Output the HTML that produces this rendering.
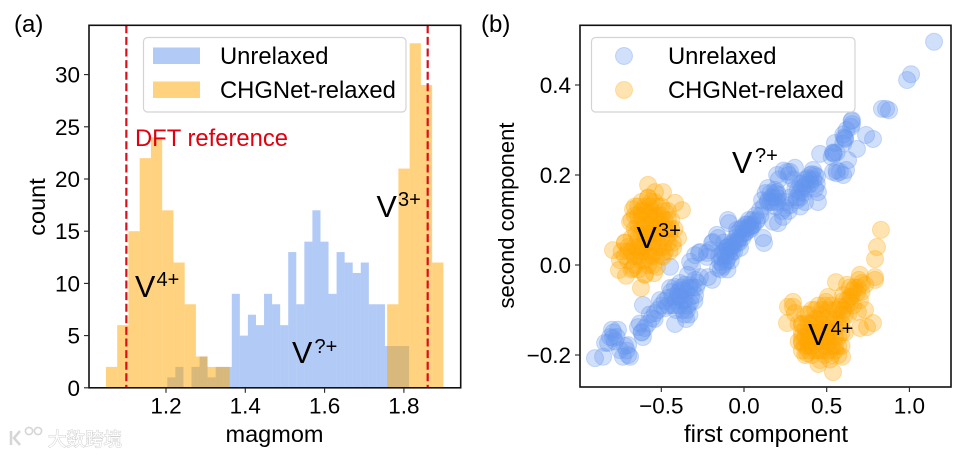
<!DOCTYPE html>
<html lang="en">
<head>
<meta charset="utf-8">
<title>Magnetic moment histogram and PCA scatter</title>
<style>
html,body{margin:0;padding:0;background:#fff;width:961px;height:457px;overflow:hidden}
svg{display:block;font-family:"Liberation Sans","Noto Sans CJK SC",sans-serif}
</style>
</head>
<body>
<svg id="figure" xmlns="http://www.w3.org/2000/svg" width="961" height="457" viewBox="0 0 961 457">
  <g id="panelA"></g>
  <g id="panelB"></g>

  <text x="14" y="32" font-size="24">(a)</text>
  <text x="481" y="32" font-size="24">(b)</text>

  <text x="274.5" y="442" font-size="23.5" text-anchor="middle">magmom</text>
  <text transform="translate(45 207) rotate(-90)" font-size="23.5" text-anchor="middle">count</text>
  <text x="766" y="442" font-size="24" text-anchor="middle">first component</text>
  <text transform="translate(514 215.5) rotate(-90)" font-size="22" text-anchor="middle">second component</text>

  <text x="135" y="146" font-size="23.8" fill="#e0000f">DFT reference</text>

  <g><text x="135" y="297" font-size="30.5">V</text><text x="156.5" y="286" font-size="20">4+</text></g>
  <g><text x="376.5" y="217" font-size="30.5">V</text><text x="398" y="206" font-size="20">3+</text></g>
  <g><text x="292" y="363" font-size="30.5">V</text><text x="314.5" y="353" font-size="20">?+</text></g>
  <g><text x="636.5" y="248" font-size="30.5">V</text><text x="658" y="237" font-size="20">3+</text></g>
  <g><text x="808" y="345" font-size="30.5">V</text><text x="830.5" y="335" font-size="20">4+</text></g>
  <g><text x="732" y="173" font-size="30.5">V</text><text x="755" y="162" font-size="20">?+</text></g>

  <g>
    <rect x="143.5" y="37.5" width="262.5" height="74.5" rx="4" fill="#fff" fill-opacity="0.8" stroke="#d4d4d4" stroke-width="1.2"/>
    <rect x="153" y="47.5" width="47" height="16.5" fill="#6495ed" fill-opacity="0.5"/>
    <rect x="153" y="81.5" width="47" height="16.5" fill="#ffa500" fill-opacity="0.5"/>
    <text x="220" y="64" font-size="23.8">Unrelaxed</text>
    <text x="220" y="98" font-size="23.8">CHGNet-relaxed</text>
  </g>
  <g>
    <rect x="591.5" y="37.5" width="263.5" height="74.5" rx="4" fill="#fff" fill-opacity="0.8" stroke="#d4d4d4" stroke-width="1.2"/>
    <circle cx="624" cy="56" r="8.5" fill="#6495ed" fill-opacity="0.3" stroke="#6495ed" stroke-opacity="0.3"/>
    <circle cx="624" cy="90" r="8.5" fill="#ffa500" fill-opacity="0.3" stroke="#ffa500" stroke-opacity="0.3"/>
    <text x="668" y="64" font-size="23.8">Unrelaxed</text>
    <text x="668" y="98" font-size="23.8">CHGNet-relaxed</text>
  </g>

  <g>
    <path d="M11 431v14M20 431l-6 7 6 7" fill="none" stroke="#d6d6d6" stroke-width="2.5"/>
    <circle cx="29" cy="431" r="3.6" fill="none" stroke="#d6d6d6" stroke-width="1.6"/>
    <circle cx="38" cy="431" r="3.6" fill="none" stroke="#d6d6d6" stroke-width="1.6"/>
    <text x="48" y="446" font-size="18.5" fill="#fff" stroke="#cfcfcf" stroke-width="1" paint-order="stroke">大数跨境</text>
  </g>
</svg>

<script>
const histBlueCounts = [1,2,0,2,3,1,2,2,9,5,7,6,9,8,6,13,8,14,17,14,9,13,12,11,12,8,8,4,4,4];
const histOrangeCounts = [2,6,15,22,24,17,12,8,3,2,2,0,0,0,0,0,0,0,0,0,0,0,0,0,0,8,21,33,29,12];
const histBlueStart = 1.2033;
const histBlueWidth = 0.02033;
const histOrangeStart = 1.0485;
const histOrangeWidth = 0.02837;
const referenceValues = [1.1, 1.86];
const histXTicks = [1.2, 1.4, 1.6, 1.8];
const histYTicks = [0, 5, 10, 15, 20, 25, 30];
const scatterXTicks = [-0.5, 0, 0.5, 1];
const scatterYTicks = [-0.2, 0, 0.2, 0.4];
const scatterXTickLabels = ['\u22120.5', '0.0', '0.5', '1.0'];
const scatterYTickLabels = ['\u22120.2', '0.0', '0.2', '0.4'];

const blueX = [1.149,1.010,.986,.834,.859,.877,.653,.653,.647,.738,.780,.605,.611,.550,.683,.460,.538,.544,.629,.538,.562,.580,.617,.611,
.308,.260,.278,.200,.417,.441,.399,.369,.351,.339,.447,.447,.369,.320,.278,.248,.200,.188,.145,.109,.145,.175,.200,.097,.206,.175,.236,.115,.121,
-.097,-.091,.079,.054,.024,.006,-.024,-.054,-.085,-.103,-.127,-.073,-.157,-.187,-.206,-.266,-.296,-.224,-.024,.036,-.042,-.006,
-.447,-.611,-.417,-.163,-.193,-.272,-.326,-.224,-.218,-.193,-.266,-.314,-.387,-.417,-.447,-.296,-.326,-.345,-.459,-.508,-.538,-.556,-.641,-.617,-.611,
-.798,-.762,-.792,-.822,-.840,-.701,-.750,-.732,-.689,-.852,-.901,-.387,-.369,-.103,-.127,-.085,-.042,-.006,.036,
-.115,-.097,-.133,-.145,-.109,-.157,-.067,-.036,.012,.048,.073,
-.357,-.387,-.399,-.326,-.296,-.339,-.411,-.435,-.478,-.357,-.369,
.387,.411,.357,.326,.429,.188,.206,.169,.145,
-.11,-.10,-.08,-.07,-.05,-.04,-.02,.00,.02,.03,.05,.07,-.13,-.12,-.09,-.15,-.12,-.06,-.03,-.01,.01,.04,-.08,-.10,-.14,
-.33,-.35,-.37,-.39,-.41,-.31,-.29,-.32,-.34,-.36,-.40,-.38,-.43,-.30,-.28,-.42,-.46,-.44,-.48,-.52,-.50,-.54,-.58,-.60,-.62,-.63,-.57,-.35,-.33,
.30,.32,.34,.36,.38,.40,.42,.37,.34,.31,.16,.18,.20,.19,.16,.13,.12,.25,.23,.28,.27,.10,.21,.24,.27,.40,.43,.44,.34,
-.79,-.77,-.81,-.71,-.72,-.70,-.78,
.60,.62,.65,.60,.54,.56,.56,.60,.53];
const blueY = [.496,.424,.411,.347,.347,.344,.322,.313,.307,.289,.280,.284,.280,.271,.258,.247,.249,.247,.233,.207,.204,.207,.211,.282,
.216,.207,.207,.200,.211,.196,.189,.178,.171,.162,.162,.140,.140,.144,.133,.127,.162,.167,.171,.144,.140,.140,.140,.122,.093,.096,.107,.060,.049,
.100,.093,.100,.089,.082,.071,.062,.051,.044,.038,.029,.029,.060,.051,.033,.029,.022,.018,.038,.089,.078,.084,
-.004,-.089,-.131,.067,.049,.027,.007,.027,-.027,-.033,-.027,-.004,-.040,-.049,-.051,-.067,-.084,-.100,-.073,-.078,-.107,-.118,-.138,-.149,-.160,
-.144,-.144,-.162,-.173,-.173,-.178,-.189,-.204,-.204,-.204,-.207,-.071,-.056,.011,-.004,.033,.049,.071,.084,
.022,.033,.016,.007,.007,-.007,.042,.056,.073,.087,.096,
-.044,-.056,-.062,-.044,-.033,-.022,-.078,-.089,-.096,-.078,-.100,
.193,.202,.182,.167,.200,.160,.156,.151,.144,
.02,.04,.04,.05,.06,.07,.08,.08,.09,.10,.10,.11,.00,.03,.02,.02,.05,.03,.05,.06,.09,.08,.01,-.01,-.01,
-.05,-.06,-.08,-.09,-.10,-.05,-.05,-.07,-.09,-.11,-.07,-.05,-.07,-.08,-.04,-.09,-.09,-.06,-.08,-.10,-.09,-.12,-.13,-.14,-.15,-.13,-.11,-.12,-.11,
.19,.15,.15,.16,.17,.18,.19,.19,.18,.17,.16,.15,.15,.13,.14,.16,.13,.14,.12,.15,.12,.11,.19,.21,.20,.20,.17,.18,.13,
-.15,-.16,-.16,-.19,-.18,-.20,-.17,
.29,.30,.32,.27,.25,.25,.21,.20,.24];

const orangeX = [-.66,-.62,-.58,-.54,-.50,-.46,-.44,-.42,-.68,-.64,-.60,-.56,-.52,-.48,-.45,-.66,-.62,-.58,-.55,-.51,-.47,-.43,
-.64,-.60,-.56,-.53,-.49,-.45,-.70,-.66,-.62,-.58,-.54,-.50,-.74,-.70,-.66,-.62,-.58,-.55,-.72,-.68,-.64,-.60,-.57,-.59,-.61,-.63,-.52,-.55,
-.580,-.490,-.538,-.580,-.671,-.417,-.375,-.689,-.399,-.429,-.792,-.720,-.750,-.756,-.713,-.671,-.599,-.544,-.623,-.526,-.490,
.33,.37,.41,.45,.49,.53,.57,.61,.35,.39,.43,.47,.51,.55,.59,.33,.37,.41,.45,.49,.53,.57,.61,.35,.39,.43,.47,.51,.55,.59,.37,.41,.45,.49,.53,.57,.43,.47,.39,.51,.45,.52,
.828,.804,.792,.792,.792,.701,.695,.556,.623,.508,.496,.296,.266,.296,.260,.308,.780,.732,.744,.701,.538,.460,.593,.381,.351,.351,
.641,.659,.623,.580,.683,.641,.701,.599,.713,.732,.689,
-.64,-.60,-.56,-.52,-.48,-.46,-.44,-.66,-.62,-.58,-.54,-.50,-.46,-.64,-.60,-.56,-.52,-.48,-.62,-.58,-.54,-.50,-.46,-.68,-.64,-.60,-.56,-.52,-.48,-.70,-.66,-.62,-.58,-.72,-.68,-.60,-.56,-.64,-.53,-.62,-.57,-.55,-.50,-.59,-.65,
.35,.39,.43,.47,.51,.55,.59,.37,.41,.45,.49,.53,.57,.35,.39,.43,.47,.51,.55,.59,.35,.39,.43,.47,.51,.55,.37,.41,.45,.49,.53,.57,.39,.43,.47,.51,.55,.41,.45,.49,
.62,.65,.67,.64,.60,.66,.69,.71,.63,.60];
const orangeY = [.13,.14,.15,.14,.13,.12,.10,.08,.10,.11,.12,.12,.11,.10,.07,.08,.09,.09,.10,.08,.06,.05,
.06,.07,.07,.06,.04,.03,.04,.04,.04,.05,.03,.02,.03,.01,.02,.01,.02,.00,.05,-.01,-.01,-.02,.11,.03,.08,.03,.09,.05,
.178,.162,.162,.149,.124,.138,.122,.096,.060,.038,.033,.049,.011,-.011,-.024,-.007,-.022,-.018,-.051,-.004,.018,
-.13,-.11,-.10,-.09,-.09,-.09,-.10,-.11,-.15,-.13,-.12,-.11,-.12,-.12,-.13,-.17,-.16,-.15,-.14,-.14,-.15,-.16,-.15,-.19,-.18,-.17,-.17,-.17,-.18,-.18,-.20,-.20,-.19,-.20,-.20,-.20,-.14,-.15,-.16,-.15,-.22,-.21,
.078,.040,.013,-.027,-.033,-.022,-.033,-.038,-.044,-.071,-.082,-.082,-.093,-.093,-.129,-.107,-.129,-.100,-.138,-.140,-.238,-.211,-.204,-.196,-.173,-.133,
-.071,-.056,-.078,-.093,-.062,-.084,-.078,-.067,-.040,-.044,-.104,
.13,.13,.14,.13,.12,.10,.08,.11,.11,.11,.11,.11,.08,.09,.09,.09,.07,.08,.07,.07,.08,.06,.05,.06,.04,.05,.04,.04,.03,.03,.00,.03,.00,.02,.03,.01,.02,.02,.02,.12,.13,.07,.09,.06,.07,
-.13,-.11,-.10,-.10,-.10,-.10,-.11,-.14,-.13,-.12,-.12,-.13,-.13,-.16,-.15,-.15,-.13,-.14,-.14,-.15,-.17,-.17,-.16,-.16,-.16,-.16,-.18,-.18,-.17,-.18,-.18,-.18,-.19,-.19,-.19,-.19,-.19,-.16,-.16,-.16,
-.09,-.07,-.05,-.05,-.08,-.09,-.05,-.06,-.11,-.10];

const NS = 'http://www.w3.org/2000/svg';
const AX_A = {left: 89, right: 460.7, top: 25.3, bottom: 387.8};
const AX_B = {left: 580, right: 951, top: 25.3, bottom: 387};

function histX(v) { return 166 + (v - 1.2) * 396.5; }
function histY(v) { return 387.8 - v * 10.44; }
function scatX(v) { return 744 + v * 165.4; }
function scatY(v) { return 265 - v * 450; }

function make(parent, tag, attrs) {
  const el = document.createElementNS(NS, tag);
  Object.keys(attrs).forEach(function (k) { el.setAttribute(k, attrs[k]); });
  parent.appendChild(el);
  return el;
}

const panelA = document.getElementById('panelA');
const panelB = document.getElementById('panelB');

histBlueCounts.forEach(function (c, i) {
  if (!c) return;
  const x0 = histX(histBlueStart + i * histBlueWidth);
  const x1 = histX(histBlueStart + (i + 1) * histBlueWidth);
  const el = make(panelA, 'rect', {x: x0, y: histY(c), width: x1 - x0, height: histY(0) - histY(c), fill: '#6495ed', 'fill-opacity': 0.5});
  
  
});
histOrangeCounts.forEach(function (c, i) {
  if (!c) return;
  const x0 = histX(histOrangeStart + i * histOrangeWidth);
  const x1 = histX(histOrangeStart + (i + 1) * histOrangeWidth);
  const el = make(panelA, 'rect', {x: x0, y: histY(c), width: x1 - x0, height: histY(0) - histY(c), fill: '#ffa500', 'fill-opacity': 0.5});
  
  
});
referenceValues.forEach(function (v) {
  const el = make(panelA, 'line', {x1: histX(v), x2: histX(v), y1: AX_A.top, y2: AX_A.bottom, stroke: '#d8101c', 'stroke-width': 2.2, 'stroke-dasharray': '8 3.6'});
  
  
});

blueX.forEach(function (v, i) {
  const el = make(panelB, 'circle', {cx: scatX(v), cy: scatY(blueY[i]), r: 8.5, fill: '#6495ed', 'fill-opacity': 0.3, stroke: '#6495ed', 'stroke-opacity': 0.3});
  
  
});
orangeX.forEach(function (v, i) {
  const el = make(panelB, 'circle', {cx: scatX(v), cy: scatY(orangeY[i]), r: 8.5, fill: '#ffa500', 'fill-opacity': 0.3, stroke: '#ffa500', 'stroke-opacity': 0.3});
  
  
});

function drawFrame(parent, ax) {
  const el = make(parent, 'rect', {x: ax.left, y: ax.top, width: ax.right - ax.left, height: ax.bottom - ax.top, fill: 'none', stroke: '#111', 'stroke-width': 1.6});
  
  
}
function drawXTick(parent, ax, px, label) {
  const tick = make(parent, 'line', {x1: px, x2: px, y1: ax.bottom, y2: ax.bottom + 5, stroke: '#222', 'stroke-width': 1.1});
  
  
  const t = make(parent, 'text', {x: px, y: 413.5, 'font-size': 22.5, 'text-anchor': 'middle'});
  t.textContent = label;
  
  
}
function drawYTick(parent, ax, py, label) {
  const tick = make(parent, 'line', {x1: ax.left - 5, x2: ax.left, y1: py, y2: py, stroke: '#222', 'stroke-width': 1.1});
  
  
  const t = make(parent, 'text', {x: ax.left - 9, y: py + 8, 'font-size': 22.5, 'text-anchor': 'end'});
  t.textContent = label;
  
  
}

drawFrame(panelA, AX_A);
drawFrame(panelB, AX_B);
histXTicks.forEach(function (v) { drawXTick(panelA, AX_A, histX(v), v.toFixed(1)); });
histYTicks.forEach(function (v) { drawYTick(panelA, AX_A, histY(v), String(v)); });
scatterXTicks.forEach(function (v, i) { drawXTick(panelB, AX_B, scatX(v), scatterXTickLabels[i]); });
scatterYTicks.forEach(function (v, i) { drawYTick(panelB, AX_B, scatY(v), scatterYTickLabels[i]); });
</script>
</body>
</html>
